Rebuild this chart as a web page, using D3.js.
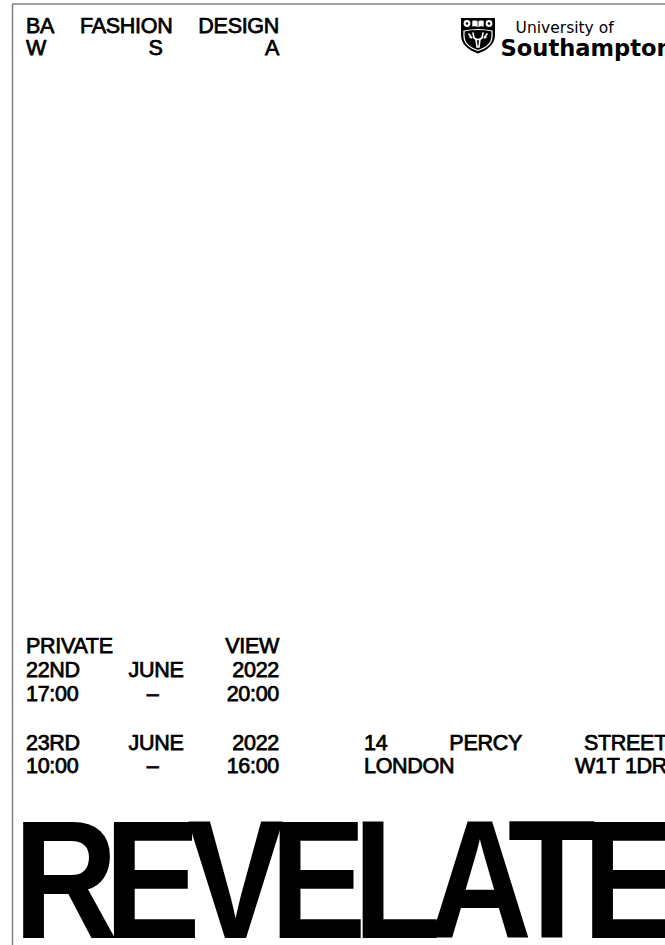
<!DOCTYPE html>
<html>
<head>
<meta charset="utf-8">
<script src="https://cdn.jsdelivr.net/npm/d3@7"></script>
<style>
  html, body { margin: 0; padding: 0; background: #fff; }
  svg { display: block; }
</style>
</head>
<body>
<svg id="poster"></svg>
<script>
const WIDTH = 665;
const HEIGHT = 945;

// poster copy, one array per block of justified lines
const headerLines = [["BA", "FASHION", "DESIGN"], ["W", "S", "A"]];
const viewLines = [["PRIVATE", "VIEW"], ["22ND", "JUNE", "2022"], ["17:00", "–", "20:00"]];
const openLines = [["23RD", "JUNE", "2022"], ["10:00", "–", "16:00"]];
const addressLines = [["14", "PERCY", "STREET"], ["LONDON", "W1T 1DR"]];
const uniLines = ["University of", "Southampton"];
const title = "REVELATE";

var svg = d3.select('#poster').attr('width', WIDTH).attr('height', HEIGHT);

svg.append('rect').attr('width', WIDTH).attr('height', HEIGHT).attr('fill', '#fff');

// thin grey frame on top and left
svg.append('line').attr('x1', 12.5).attr('y1', 4).attr('x2', WIDTH).attr('y2', 4)
    .attr('stroke', '#7f7f7f').attr('stroke-width', 1.5);
svg.append('line').attr('x1', 12.5).attr('y1', 4).attr('x2', 12.5).attr('y2', HEIGHT)
    .attr('stroke', '#7f7f7f').attr('stroke-width', 1.5);

// spread the words of each line so they fill [left, right]
function justifyBlock(lines, left, right, baselines) {
    var g = svg.append('g');
    lines.forEach(function(words, i) {
        var row = g.append('g');
        var texts = row.selectAll('text').data(words).enter().append('text')
            .attr('y', baselines[i])
            .attr('font-family', '"Liberation Sans", Arial, sans-serif')
            .attr('font-size', 21.5)
            .attr('letter-spacing', -0.3)
            .attr('fill', '#000')
            .attr('stroke', '#000').attr('stroke-width', 0.75)
            .text(function(d) { return d; });
        var widths = [];
        texts.each(function() { widths.push(this.getComputedTextLength()); });
        var total = widths.reduce(function(p, c) { return p + c; }, 0);
        var gap = words.length > 1 ? (right - left - total) / (words.length - 1) : 0;
        var x = left;
        texts.attr('x', function(d, j) {
            var pos = x;
            x += widths[j] + gap;
            return pos;
        });
    });
}

justifyBlock(headerLines, 26, 279, [33, 55]);
justifyBlock(viewLines, 26, 279, [653, 677, 701]);
justifyBlock(openLines, 26, 279, [749.5, 773]);
justifyBlock(addressLines, 364, 667, [749.5, 773]);

// university crest
var crest = svg.append('g').attr('transform', 'translate(461,18)');
crest.append('path')
    .attr('d', 'M0,0 H34 V17 C34,26 27,32 17,35.5 C7,32 0,26 0,17 Z')
    .attr('fill', '#000');
crest.append('path')
    .attr('d', 'M3,13 Q17,10 31,13 V18 C31,25 25,30 17,32.5 C9,30 3,25 3,18 Z')
    .attr('fill', 'none').attr('stroke', '#fff').attr('stroke-width', 1.2);
// roses
[6, 28].forEach(function(cx) {
    crest.append('circle').attr('cx', cx).attr('cy', 5.5).attr('r', 3.4).attr('fill', '#fff');
    crest.append('circle').attr('cx', cx).attr('cy', 5.5).attr('r', 1.3).attr('fill', '#000');
});
// open book
crest.append('path')
    .attr('d', 'M11,2.5 Q14,1.5 17,3 Q20,1.5 23,2.5 V9 Q20,8 17,9.5 Q14,8 11,9 Z')
    .attr('fill', '#fff').attr('stroke', '#000').attr('stroke-width', 0.6);
crest.append('line').attr('x1', 17).attr('y1', 3).attr('x2', 17).attr('y2', 9.5)
    .attr('stroke', '#000').attr('stroke-width', 0.8);
// stag head
crest.append('path')
    .attr('d', 'M8,16 L11,20 L9,19 M12,15 L13,20 M26,16 L23,20 L25,19 M22,15 L21,20 ' +
               'M13,20 Q17,23 21,20 M15,21 L16,29 L18,29 L19,21')
    .attr('fill', 'none').attr('stroke', '#fff').attr('stroke-width', 1.6)
    .attr('stroke-linecap', 'round');

svg.append('text')
    .attr('x', 515.6).attr('y', 33)
    .attr('font-family', '"DejaVu Sans", sans-serif')
    .attr('font-size', 15.5)
    .attr('fill', '#000')
    .text(uniLines[0]);
svg.append('text')
    .attr('x', 500.5).attr('y', 56)
    .attr('font-family', '"DejaVu Sans", sans-serif')
    .attr('font-weight', 'bold')
    .attr('font-size', 22.6)
    .attr('fill', '#000')
    .text(uniLines[1]);

// giant condensed title, letters pushed together until they touch
var titleG = svg.append('g').attr('transform', 'translate(13.5,938) scale(0.86,1)');
titleG.append('text')
    .attr('x', 0).attr('y', 0)
    .attr('font-family', '"Liberation Sans", Arial, sans-serif')
    .attr('font-weight', 'bold')
    .attr('font-size', 168)
    .attr('letter-spacing', -15.7)
    .attr('fill', '#000')
    .text(title);
</script>
</body>
</html>
